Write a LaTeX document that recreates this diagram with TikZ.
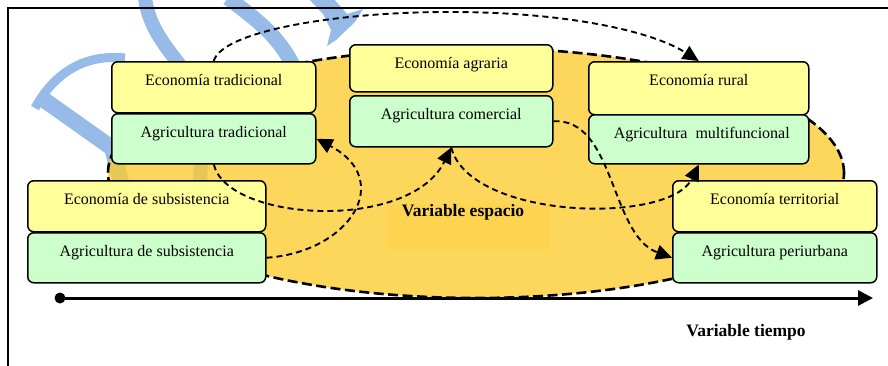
\documentclass[tikz,border=0pt]{standalone}
\usepackage{fontspec}
\setmainfont{Liberation Serif}
\usetikzlibrary{arrows.meta}
\definecolor{boxyellow}{RGB}{255,255,153}
\definecolor{boxgreen}{RGB}{204,255,204}
\definecolor{zonefill}{RGB}{253,204,45}
\definecolor{zoneglow}{RGB}{250,190,20}
\definecolor{wmblue}{RGB}{150,187,232}
\begin{document}
\begin{tikzpicture}[x=1pt,y=-1pt,
  stage/.style={draw=black, line width=1.5pt, rounded corners=6pt,
    anchor=north west, inner sep=0pt, text height=24pt,
    font=\fontsize{16}{19}\selectfont},
  econ/.style={stage, fill=boxyellow},
  agri/.style={stage, fill=boxgreen},
  flow/.style={draw=black, line width=1.9pt, dash pattern=on 6pt off 4pt,
    -{Triangle[length=16pt,width=15pt]}},
  zoneline/.style={draw=black, line width=2.6pt, dash pattern=on 10pt off 4.5pt},
  axislabel/.style={font=\bfseries\fontsize{17.5}{20}\selectfont}]
\useasboundingbox (0,0) rectangle (888,365);

% faint watermark strokes in the background
\begin{scope}[draw=wmblue, fill=wmblue]
  \draw[line width=9pt] (35,108) .. controls (55,72) and (85,54) .. (125,58);
  \draw[line width=16pt] (40,97) -- (112,148) -- (122,185);
  \draw[line width=14pt] (145,-2) .. controls (150,35) and (175,55) .. (190,80)
        .. controls (200,100) and (202,140) .. (200,185);
  \draw[line width=15pt] (228,-2) .. controls (250,15) and (280,35) .. (295,70);
  \fill (308,-2) -- (333,-2) -- (347,14) -- (363,9) -- (355,22) -- (336,40)
        -- (327,46) -- (331,30) -- (323,14) -- cycle;
\end{scope}

% frame
\draw[line width=2.6pt] (890,8) -- (8,8) -- (8,370);

% space zone
\fill[zonefill, fill opacity=0.78] (476,173) ellipse [x radius=368pt, y radius=125pt];
\draw[zoneline] (476,173) ellipse [x radius=368pt, y radius=125pt];
\fill[zoneglow, opacity=0.15] (387,205) rectangle (550,250);

% stages
\node[econ, minimum width=204pt, text depth=27pt] (et) at (111,61) {Economía tradicional};
\node[agri, minimum width=204pt, text depth=26pt] (at) at (111,113) {Agricultura tradicional};
\node[econ, minimum width=203pt, text depth=23pt] (ea) at (349,44) {Economía agraria};
\node[agri, minimum width=203pt, text depth=27pt] (ac) at (349,95) {Agricultura comercial};
\node[econ, minimum width=220pt, text depth=29pt] (er) at (588,61) {Economía rural};
\node[agri, minimum width=220pt, text depth=25pt] (am) at (588,114) {\hspace{6pt}Agricultura\ \ multifuncional};
\node[econ, minimum width=238pt, text depth=27pt] (es) at (27,180) {Economía de subsistencia};
\node[agri, minimum width=238pt, text depth=26pt] (as) at (27,232) {Agricultura de subsistencia};
\node[econ, minimum width=204pt, text depth=27pt] (eT) at (672,180) {Economía territorial};
\node[agri, minimum width=204pt, text depth=26pt] (ap) at (672,232) {Agricultura periurbana};

% transitions
\draw[flow] (et.north) .. controls (222,32) and (330,13) .. (440,12)
            .. controls (560,11) and (650,30) .. (er.north);
\draw[flow] (as.east) .. controls (350,252) and (395,180) .. (at.east);
\draw[flow] (at.south) .. controls (228,222) and (410,232) .. (ac.south);
\draw[flow] (ac.south) .. controls (470,220) and (670,225) .. (am.south);
\draw[flow] (ac.east) .. controls (615,118) and (610,235) .. (ap.west);

\node[axislabel] (vesp) at (463,212) {Variable espacio};

% time axis
\node[circle, fill=black, inner sep=0pt, minimum size=11pt] (t0) at (60,298) {};
\coordinate (t1) at (873,298);
\draw[line width=3pt, -{Triangle[length=15pt,width=15pt]}] (t0.center) -- (t1);
\node[axislabel] (vtime) at (746,332) {Variable tiempo};
\end{tikzpicture}
\end{document}
